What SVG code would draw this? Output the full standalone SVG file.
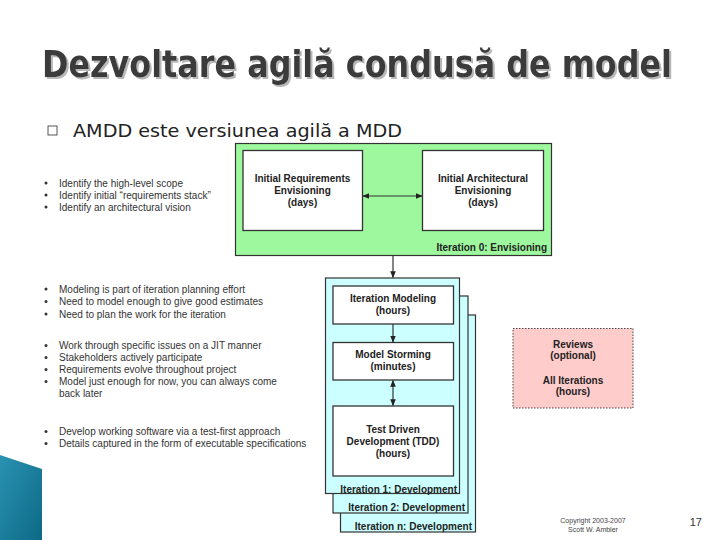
<svg xmlns="http://www.w3.org/2000/svg" width="720" height="540" viewBox="0 0 720 540">
<defs>
<style>
.title{font-family:"DejaVu Sans Condensed","DejaVu Sans",sans-serif;font-weight:bold;font-size:38px}
.sub{font-family:"DejaVu Sans Condensed","DejaVu Sans",sans-serif;font-size:18px;fill:#222}
.bl{font-family:"Liberation Sans",Arial,sans-serif;font-size:10px;fill:#333}
.bx{font-family:"Liberation Sans",Arial,sans-serif;font-size:10px;font-weight:bold;fill:#222;text-anchor:middle}
.lab{font-family:"Liberation Sans",Arial,sans-serif;font-size:10px;font-weight:bold;fill:#222;text-anchor:end}
.small{font-family:"Liberation Sans",Arial,sans-serif;font-size:7px;fill:#444;text-anchor:middle}
.wbox{fill:#fff;stroke:#333;stroke-width:1.3}
.cyan{fill:#ccffff;stroke:#333;stroke-width:1.2}
.conn{stroke:#333;stroke-width:1.2;fill:none}
</style>
<filter id="shadow" x="-5%" y="-20%" width="110%" height="150%">
<feDropShadow dx="2" dy="2" stdDeviation="0.6" flood-color="#b8b8b8" flood-opacity="1"/>
</filter>
<marker id="ah" viewBox="0 0 10 10" refX="9" refY="5" markerWidth="7" markerHeight="7" orient="auto-start-reverse" markerUnits="userSpaceOnUse">
<path d="M0,1 L10,5 L0,9 z" fill="#222"/>
</marker>
<linearGradient id="teal" x1="0" y1="0" x2="1" y2="1">
<stop offset="0" stop-color="#2a92b2"/>
<stop offset="1" stop-color="#0d6a86"/>
</linearGradient>
</defs>
<rect width="720" height="540" fill="#fff"/>

<g id="title">
<text class="title" x="42" y="77" fill="#3a3a3a" filter="url(#shadow)" textLength="630" lengthAdjust="spacingAndGlyphs">Dezvoltare agilă condusă de model</text>
</g>

<g id="subtitle">
<rect x="48" y="126" width="9" height="9" fill="none" stroke="#444" stroke-width="0.9"/>
<text class="sub" x="73" y="137" textLength="329" lengthAdjust="spacingAndGlyphs">AMDD este versiunea agilă a MDD</text>
</g>

<g id="bullets">
<g id="b1">
<circle cx="46" cy="183" r="1.5" fill="#333"/><text class="bl" x="59" y="186.5">Identify the high-level scope</text>
<circle cx="46" cy="195" r="1.5" fill="#333"/><text class="bl" x="59" y="198.5">Identify initial “requirements stack”</text>
<circle cx="46" cy="207" r="1.5" fill="#333"/><text class="bl" x="59" y="210.5">Identify an architectural vision</text>
</g>
<g id="b2">
<circle cx="46" cy="289" r="1.5" fill="#333"/><text class="bl" x="59" y="292.5">Modeling is part of iteration planning effort</text>
<circle cx="46" cy="301.5" r="1.5" fill="#333"/><text class="bl" x="59" y="305">Need to model enough to give good estimates</text>
<circle cx="46" cy="314" r="1.5" fill="#333"/><text class="bl" x="59" y="317.5">Need to plan the work for the iteration</text>
</g>
<g id="b3">
<circle cx="46" cy="345.5" r="1.5" fill="#333"/><text class="bl" x="59" y="349">Work through specific issues on a JIT manner</text>
<circle cx="46" cy="357.5" r="1.5" fill="#333"/><text class="bl" x="59" y="361">Stakeholders actively participate</text>
<circle cx="46" cy="369.5" r="1.5" fill="#333"/><text class="bl" x="59" y="373">Requirements evolve throughout project</text>
<circle cx="46" cy="381.5" r="1.5" fill="#333"/><text class="bl" x="59" y="385">Model just enough for now, you can always come</text>
<text class="bl" x="59" y="396.5">back later</text>
</g>
<g id="b4">
<circle cx="46" cy="431.5" r="1.5" fill="#333"/><text class="bl" x="59" y="435">Develop working software via a test-first approach</text>
<circle cx="46" cy="443.5" r="1.5" fill="#333"/><text class="bl" x="59" y="447">Details captured in the form of executable specifications</text>
</g>
</g>

<g id="iteration0">
<rect x="235.5" y="143.5" width="316" height="112" fill="#9ef99e" stroke="#333" stroke-width="1.2"/>
<text class="lab" x="547" y="251">Iteration 0: Envisioning</text>
</g>
<g id="req">
<rect class="wbox" x="243" y="150.5" width="119.5" height="80"/>
<text class="bx" x="302.5" y="182">Initial Requirements</text>
<text class="bx" x="302.5" y="194">Envisioning</text>
<text class="bx" x="302.5" y="206">(days)</text>
</g>
<g id="arch">
<rect class="wbox" x="422.5" y="150.5" width="121" height="80"/>
<text class="bx" x="483" y="182">Initial Architectural</text>
<text class="bx" x="483" y="194">Envisioning</text>
<text class="bx" x="483" y="206">(days)</text>
</g>

<g id="itern">
<rect class="cyan" x="340.5" y="315" width="135" height="217"/>
<text class="lab" x="472" y="530">Iteration n: Development</text>
</g>
<g id="iter2">
<rect class="cyan" x="333" y="296" width="135" height="217"/>
<text class="lab" x="465" y="511">Iteration 2: Development</text>
</g>
<g id="iter1">
<rect class="cyan" x="325.5" y="278" width="134" height="215.5"/>
<text class="lab" x="457" y="492.5">Iteration 1: Development</text>
</g>
<g id="im">
<rect class="wbox" x="333" y="286" width="120.5" height="38"/>
<text class="bx" x="393" y="302">Iteration Modeling</text>
<text class="bx" x="393" y="314">(hours)</text>
</g>
<g id="ms">
<rect class="wbox" x="333" y="342.5" width="120.5" height="37.5"/>
<text class="bx" x="393" y="358">Model Storming</text>
<text class="bx" x="393" y="370">(minutes)</text>
</g>
<g id="tdd">
<rect class="wbox" x="333" y="406" width="120.5" height="70"/>
<text class="bx" x="393" y="432.5">Test Driven</text>
<text class="bx" x="393" y="444.5">Development (TDD)</text>
<text class="bx" x="393" y="456.5">(hours)</text>
</g>

<g id="reviews">
<rect x="513" y="328.5" width="120" height="79.5" fill="#ffcccc" stroke="#444" stroke-width="1" stroke-dasharray="1.5,1.5"/>
<text class="bx" x="573" y="348">Reviews</text>
<text class="bx" x="573" y="359">(optional)</text>
<text class="bx" x="573" y="383.5">All Iterations</text>
<text class="bx" x="573" y="394.5">(hours)</text>
</g>

<g id="connectors">
<line class="conn" x1="363" y1="196" x2="422" y2="196" marker-start="url(#ah)" marker-end="url(#ah)"/>
<line class="conn" x1="393" y1="256" x2="393" y2="277.5" marker-end="url(#ah)"/>
<line class="conn" x1="393" y1="324" x2="393" y2="342" marker-end="url(#ah)"/>
<line class="conn" x1="393" y1="380.5" x2="393" y2="405.5" marker-start="url(#ah)" marker-end="url(#ah)"/>
</g>

<g id="decor">
<polygon points="0,455 42,469 42,540 0,540" fill="url(#teal)"/>
<text class="small" x="593" y="523">Copyright 2003-2007</text>
<text class="small" x="593" y="531.5">Scott W. Ambler</text>
<text x="702" y="526" font-family="Liberation Sans,Arial,sans-serif" font-size="11" fill="#333" text-anchor="end">17</text>
</g>
</svg>
